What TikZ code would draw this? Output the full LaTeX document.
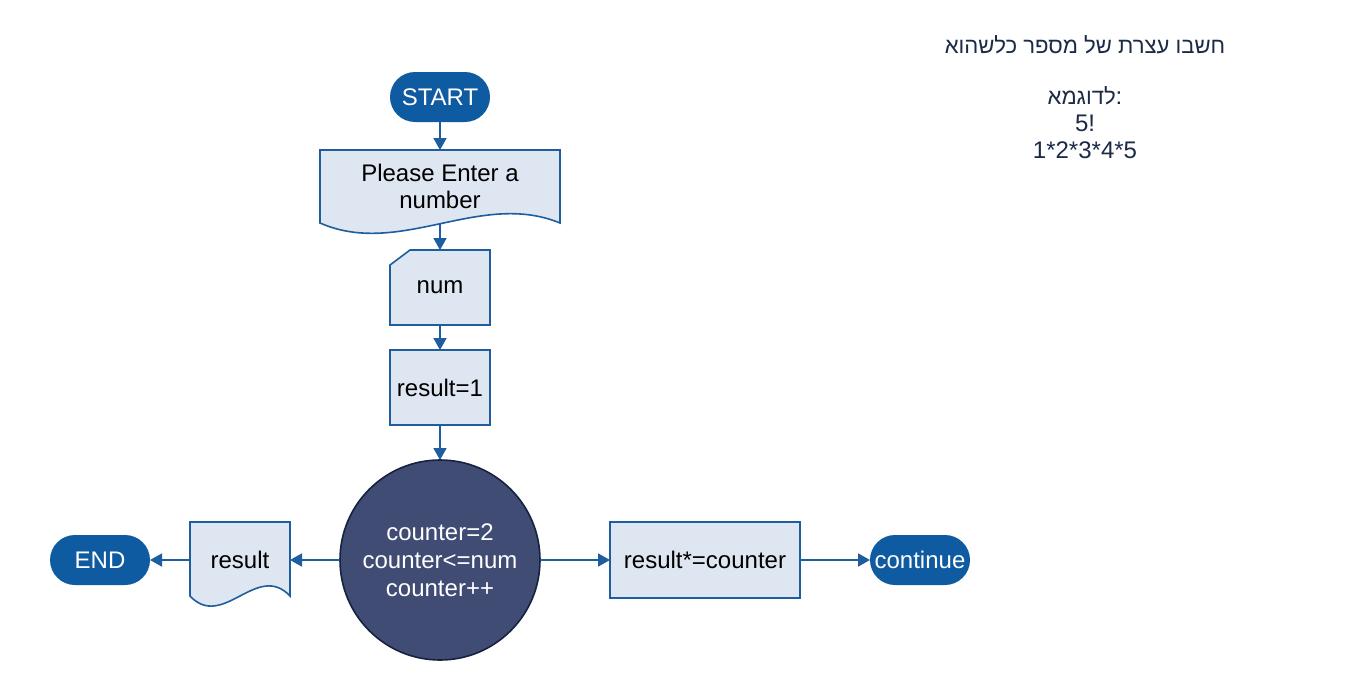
\documentclass[tikz,border=0pt]{standalone}
\usepackage{fontspec}
\setmainfont{Liberation Sans}
\newfontfamily\hebfont[Script=Hebrew]{Liberation Sans}
\TeXXeTstate=1
\usetikzlibrary{arrows.meta}
\definecolor{pillblue}{HTML}{0F5BA1}
\definecolor{boxfill}{HTML}{DEE6F1}
\definecolor{boxline}{HTML}{1E5E9E}
\definecolor{circfill}{HTML}{404C73}
\definecolor{circline}{HTML}{15233F}
\definecolor{hebcol}{HTML}{1B2A47}
\newcommand{\hebtext}[1]{{\hebfont\fontsize{22.1}{27}\selectfont\beginR #1\endR}}
\begin{document}
\begin{tikzpicture}[x=1pt,y=-1pt,
  every node/.style={font=\fontsize{24}{27}\selectfont, inner sep=0pt, outer sep=0pt},
  pill/.style={fill=pillblue, draw=none, text=white, rounded corners=25pt, minimum width=100pt, minimum height=50pt},
  procbox/.style={draw=boxline, fill=boxfill, line width=1.6pt},
  docnode/.style={draw=none, align=center},
  shapeline/.style={draw=boxline, fill=boxfill, line width=1.6pt},
  circnode/.style={circle, draw=circline, fill=circfill, line width=1.6pt, minimum size=200pt, text=white, align=center, font=\fontsize{24}{28}\selectfont},
  conn/.style={draw=boxline, line width=1.8pt, -{Triangle[length=12pt,width=13pt]}},
  note/.style={text=hebcol, align=center, font=\fontsize{24}{27}\selectfont}
]
\fill[white] (0,0) rectangle (1358,680);
\useasboundingbox (0,0) rectangle (1358,680);

% START
\node[pill] (start) at (440,97) {START};

% document: Please Enter a number
\path[shapeline] (320,150) -- (560,150) -- (560,223)
  .. controls (480,190) and (400,258) .. (320,223) -- cycle;
\node[docnode, minimum width=240pt, minimum height=73pt] (doc) at (440,186.5) {Please Enter a\\number};

% manual input: num
\path[shapeline] (390,265) -- (410,250) -- (490,250) -- (490,325) -- (390,325) -- cycle;
\node[minimum width=100pt, minimum height=75pt] (num) at (440,287.5) {num};

% result=1
\node[procbox, minimum width=100pt, minimum height=75pt] (init) at (440,387.5) {result=1};

% loop circle
\node[circnode] (loop) at (440,560) {counter=2\\counter<=num\\counter++};

% result document
\path[shapeline] (190,522) -- (290,522) -- (290,596)
  .. controls (257,561) and (223,631) .. (190,596) -- cycle;
\node[docnode, minimum width=100pt, minimum height=76pt] (res) at (240,560) {result};

% END
\node[pill] (end) at (100,560) {END};

% result*=counter
\node[procbox, minimum width=190pt, minimum height=76pt] (mult) at (705,560) {result*=counter};

% continue
\node[pill] (cont) at (920,560) {continue};

% connectors
\draw[conn] (start) -- (doc.north);
\draw[conn] (doc.south) -- (num.north);
\draw[conn] (num) -- (init);
\draw[conn] (init) -- (loop);
\draw[conn] (loop) -- (res);
\draw[conn] (res) -- (end);
\draw[conn] (loop) -- (mult);
\draw[conn] (mult) -- (cont);

% note
\node[note] (task) at (1085,45) {\hebtext{חשבו עצרת של מספר כלשהוא}};
\node[note, anchor=north] (example) at (1085,87) {\hebtext{לדוגמא}:\\5!\\1*2*3*4*5};
\end{tikzpicture}
\end{document}
